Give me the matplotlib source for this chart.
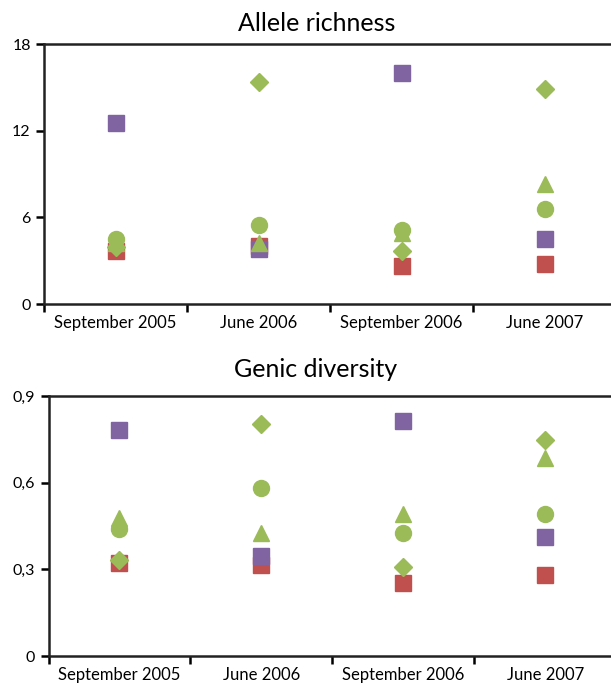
import matplotlib
matplotlib.use("Agg")
import matplotlib.pyplot as plt
from matplotlib.ticker import FixedLocator, FuncFormatter

plt.rcParams['font.family'] = ['Lato', 'DejaVu Sans']

# dados
datas = ["September 2005", "June 2006", "September 2006", "June 2007"]

riqueza_roxo = [12.5, 3.8, 16.0, 4.5]
riqueza_vermelho = [3.7, 4.0, 2.6, 2.8]
riqueza_circulo = [4.5, 5.5, 5.1, 6.55]
riqueza_triangulo = [4.2, 4.2, 4.9, 8.3]
riqueza_losango = [3.95, 15.4, 3.65, 14.9]

div_roxo = [0.784, 0.346, 0.813, 0.412]
div_vermelho = [0.322, 0.315, 0.251, 0.280]
div_circulo = [0.438, 0.581, 0.427, 0.493]
div_triangulo = [0.479, 0.427, 0.493, 0.686]
div_losango = [0.331, 0.804, 0.307, 0.749]

roxo = "#8064A2"
vermelho = "#C0504D"
verde = "#9BBB59"

fig = plt.figure(figsize=(6.11, 6.88), dpi=100)


def grafico(ax, roxos, vermelhos, circulos, triangulos, losangos, yticks, fmt):
    x = list(range(len(datas)))
    ax.plot(x, vermelhos, "s", color=vermelho, markersize=11, zorder=3, clip_on=False)
    ax.plot(x, roxos, "s", color=roxo, markersize=11, zorder=3, clip_on=False)
    ax.plot(x, circulos, "o", color=verde, markersize=11.5, zorder=3, clip_on=False)
    ax.plot(x, triangulos, "^", color=verde, markersize=12, zorder=3, clip_on=False)
    ax.plot(x, losangos, "D", color=verde, markersize=9.5, zorder=3, clip_on=False)
    ax.set_ylim(yticks[0], yticks[-1])
    ax.set_yticks(yticks)
    ax.yaxis.set_major_formatter(FuncFormatter(fmt))
    ax.set_xticks(x)
    ax.set_xticklabels(datas)
    ax.xaxis.set_minor_locator(FixedLocator([-0.5, 0.5, 1.5, 2.5]))
    ax.tick_params(axis="x", which="major", length=0, pad=8, labelsize=12)
    ax.tick_params(axis="x", which="minor", length=5.5, width=1.8, direction="out")
    ax.tick_params(axis="y", length=5.5, width=1.8, direction="out", pad=4, labelsize=11.5)
    for s in ax.spines.values():
        s.set_linewidth(1.8)
        s.set_color("#222222")
    # o lado direito fica fora da imagem original
    ax.spines["right"].set_visible(False)


# a borda direita do gráfico original fica cortada, logo depois da imagem
ax1 = fig.add_axes([44 / 611, 1 - 304 / 688, 600 / 611, 260 / 688])
grafico(ax1, riqueza_roxo, riqueza_vermelho, riqueza_circulo, riqueza_triangulo,
        riqueza_losango, [0, 6, 12, 18], lambda v, p: f"{v:g}")
ax1.set_xlim(-0.5, 3.5 + 28 / 143)

ax2 = fig.add_axes([48.5 / 611, 1 - 656 / 688, 596 / 611, 260 / 688])
grafico(ax2, div_roxo, div_vermelho, div_circulo, div_triangulo,
        div_losango, [0, 0.3, 0.6, 0.9], lambda v, p: f"{v:g}".replace(".", ","))
ax2.set_xlim(-0.5, 3.5 + 28 / 142)

fig.text(317 / 611, 1 - 31 / 688, "Allele richness", ha="center", va="baseline", fontsize=18)
fig.text(316 / 611, 1 - 377 / 688, "Genic diversity", ha="center", va="baseline", fontsize=18)

fig.savefig("out.png", dpi=100)
